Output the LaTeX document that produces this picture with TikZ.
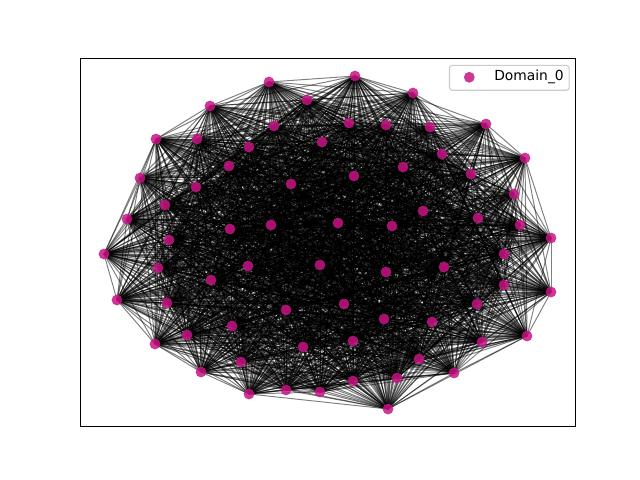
\documentclass[tikz,border=0pt]{standalone}
\usepackage{fontspec}
\setsansfont{DejaVu Sans}
\pgfdeclarelayer{bg}
\pgfsetlayers{bg,main}
\definecolor{nodecol}{RGB}{199,21,133}
\definecolor{legedge}{RGB}{204,204,204}
\begin{document}
\begin{tikzpicture}[x=0.01in,y=-0.01in,
  vtx/.style={circle,fill=nodecol,fill opacity=0.85,draw=none,inner sep=0pt,minimum size=7.8pt},
  edge/.style={draw=black,line width=0.7pt,draw opacity=0.5},
  legframe/.style={draw=legedge,fill=white,fill opacity=0.8,rounded corners=2pt,line width=0.8pt,inner sep=0pt,minimum width=86.4pt,minimum height=18pt},
  legtext/.style={font=\sffamily\fontsize{10}{12}\selectfont,anchor=west,inner sep=0pt}]
\begin{pgfonlayer}{bg}
\fill[white] (0,0) rectangle (640,480);
\end{pgfonlayer}
\useasboundingbox (0,0) rectangle (640,480);
\foreach \x/\y [count=\k] in {355/76,413/93,486/124,525/158,514/194,520/225,551/238,504/254,504/285,551/292,
  477/304,527/336,482/342,432/322,454/373,419/359,397/378,388/409,353/381,320/392,
  286/390,249/394,241/362,201/372,187/335,155/344,232/326,167/303,117/300,158/268,
  104/254,169/240,127/219,165/205,140/178,156/139,197/139,210/106,269/82,307/100,
  274/126,249/147,229/166,196/187,349/123,386/125,430/127,442/154,471/174,478/218,
  423/211,403/167,354/176,291/184,230/229,271/225,338/223,392/226,444/267,386/272,
  320/265,248/266,211/280,286/310,344/304,384/319,353/341,303/347,322/142}
  {\node[vtx] (n\k) at (\x,\y) {};}
\pgfmathsetseed{4242}
\begin{pgfonlayer}{bg}
\foreach \i in {1,...,69}{
  \foreach \j in {1,...,69}{
    \ifnum\j>\i
      \pgfmathparse{rnd}
      \ifdim\pgfmathresult pt<0.9pt
        \draw[edge] (n\i.center) -- (n\j.center);
      \fi
    \fi
  }
}
\end{pgfonlayer}
\node[draw=black,line width=0.8pt,inner sep=0pt,minimum width=357.12pt,minimum height=266.11pt] (axes) at (328,242.4) {};
\node[legframe] (legbox) at (509.3,77.8) {};
\node[vtx] (legmark) at (469.3,77.3) {};
\node[legtext] (legtxt) at (494,77.3) {Domain\_0};
\end{tikzpicture}
\end{document}
